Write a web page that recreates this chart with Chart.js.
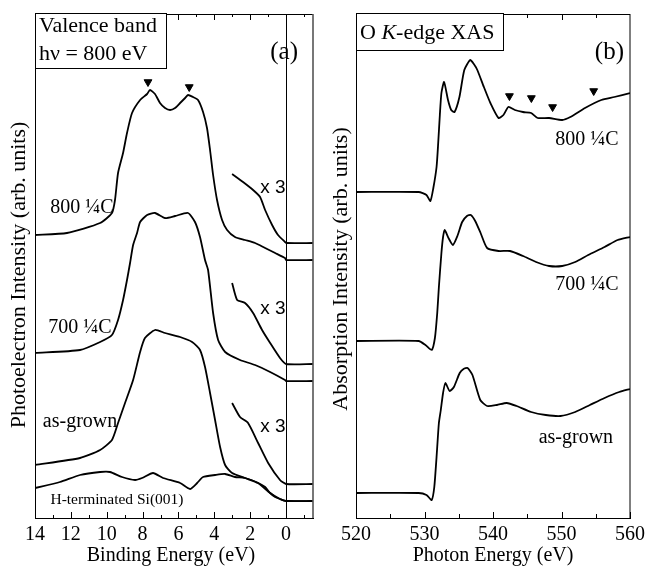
<!DOCTYPE html>
<html>
<head>
<meta charset="utf-8">
<script src="https://cdn.jsdelivr.net/npm/chart.js@4.4.0/dist/chart.umd.min.js"></script>
<style>
  body { margin: 0; background: #fff; }
  canvas { position: absolute; top: 0; }
  #vb { left: 0; }
  #xas { left: 325px; }
</style>
</head>
<body>
<canvas id="vb" width="325" height="567"></canvas>
<canvas id="xas" width="325" height="567"></canvas>
<script>
// (a) valence band, binding energy in eV, intensity in arb. units
const be800 = [14.0, 12.22, 10.37, 9.71, 9.54, 9.37, 9.09, 8.87, 8.59, 8.14, 7.75, 7.59, 7.31, 7.03, 6.75, 6.47, 6.19, 5.91, 5.63, 5.47, 5.19, 4.91, 4.63, 4.41, 4.24, 4.07, 3.85, 3.57, 3.29, 2.85, 2.29, 1.73, 1.17, 0.61, 0.06, 0, -1.5];
const vb800 = [283, 285, 295, 305, 318, 345, 365, 385, 405, 418, 424, 428, 424, 415, 410, 408, 410, 415, 420, 423, 421, 418, 406, 390, 368, 343, 318, 298, 288, 281, 278, 275, 270, 265, 260, 258, 258];
const be800x3 = [3.01, 2.40, 1.84, 1.45, 1.17, 0.78, 0.45, 0.06, 0, -1.5];
const vb800x3 = [344, 336, 328, 321, 308, 293, 283, 276, 275, 275];

const be700 = [14.0, 11.49, 10.37, 9.71, 9.37, 9.09, 8.87, 8.70, 8.53, 8.31, 8.14, 7.75, 7.31, 6.75, 6.19, 5.47, 5.08, 4.80, 4.52, 4.35, 4.07, 3.79, 3.40, 2.57, 1.73, 0.89, 0.06, 0, -1.5];
const vb700 = [165, 168, 176, 183, 198, 218, 238, 255, 273, 285, 296, 303, 305, 300, 302, 305, 296, 281, 258, 248, 205, 178, 166, 158, 153, 146, 138, 137, 137];
const be700x3 = [3.01, 2.73, 2.29, 1.84, 1.34, 0.89, 0.34, 0, -1.5];
const vb700x3 = [235, 218, 215, 205, 188, 175, 160, 154, 154];

const beAg = [14.0, 11.49, 10.37, 9.71, 9.37, 8.98, 8.53, 8.14, 7.87, 7.31, 6.75, 5.91, 5.24, 4.80, 4.52, 4.24, 3.96, 3.68, 3.40, 3.01, 2.29, 1.56, 1.17, 0.89, 0.61, 0.34, 0, -1.5];
const vbAg = [53, 60, 68, 78, 95, 115, 138, 166, 180, 188, 185, 181, 176, 168, 151, 125, 98, 71, 53, 45, 40, 35, 31, 25, 21, 19, 17, 17];
const beAgx3 = [3.01, 2.57, 2.12, 1.56, 1.00, 0.34, 0, -1.5];
const vbAgx3 = [115, 101, 95, 75, 55, 38, 34, 34];

const beSi = [14.0, 12.61, 11.49, 10.37, 9.82, 9.15, 8.42, 8.03, 7.42, 6.86, 5.91, 5.36, 4.96, 4.63, 3.96, 3.40, 2.85, 2.29, 1.56, 0.89, 0.34, 0, -1.5];
const vbSi = [30, 36, 43, 46, 46, 41, 38, 40, 45, 40, 35, 29, 35, 41, 43, 44, 41, 40, 35, 25, 19, 17, 17];

const beMarks = [7.7, 5.4];
const vbMarks = [436, 431];
const beTickLabels = [14, 12, 10, 8, 6, 4, 2, 0];

// (b) O K-edge XAS, photon energy in eV
const e800 = [520, 529.14, 530.29, 530.86, 531.29, 531.76, 532.0, 532.24, 532.47, 532.86, 533.43, 533.9, 534.39, 535.1, 535.81, 536.67, 537.2, 537.71, 538.67, 539.62, 540.81, 541.52, 542.24, 543.19, 544.38, 545.57, 546.52, 548.19, 550.1, 551.29, 553.43, 555.81, 557.71, 560];
const xas800 = [326, 326, 323, 317, 330, 351, 375, 403, 425, 436, 418, 408, 406, 421, 448, 458, 454, 448, 431, 415, 400, 403, 411, 408, 406, 405, 400, 400, 398, 401, 410, 418, 421, 425];

const e700 = [520, 529.14, 530.14, 531.05, 531.52, 531.86, 532.1, 532.47, 532.71, 532.95, 533.5, 534.14, 534.8, 535.5, 536.2, 536.76, 537.4, 538.19, 539.14, 540.81, 542.48, 544.38, 546.29, 548.19, 550.1, 552.0, 553.9, 556.29, 558.19, 560];
const xas700 = [177, 177, 173, 168, 180, 205, 231, 265, 281, 288, 280, 273, 282, 296, 302, 303, 297, 285, 270, 267, 267, 262, 256, 252, 252, 256, 263, 271, 278, 281];

const eAg = [520, 529.14, 530.29, 531.05, 531.43, 531.76, 532.1, 532.38, 532.71, 533.05, 533.67, 534.29, 535.14, 535.7, 536.29, 537.0, 538.14, 539.14, 540.57, 542.0, 543.43, 545.57, 547.71, 549.86, 552.0, 554.14, 556.29, 558.43, 560];
const xasAg = [25, 25, 23, 18, 31, 61, 95, 108, 125, 135, 127, 131, 145, 149, 150, 143, 118, 112, 113, 115, 112, 106, 103, 102, 106, 113, 120, 126, 129];

const eMarks = [542.4, 545.6, 548.7, 554.7];
const xasMarks = [422, 420, 411, 427];

const serif = "'Liberation Serif', 'Times New Roman', serif";
const sans = "'Liberation Sans', Arial, sans-serif";

const pts = (xs, ys) => xs.map((x, i) => ({ x: x, y: ys[i] }));
const curve = (xs, ys) => ({ data: pts(xs, ys), borderColor: '#000', borderWidth: 1.8, pointRadius: 0, tension: 0.2 });
const marks = (xs, ys) => ({ data: pts(xs, ys), showLine: false, pointStyle: 'triangle', pointRotation: 180, pointRadius: 4.5, backgroundColor: '#000', borderColor: '#000', borderWidth: 1 });

const frame = {
  id: 'frame',
  afterDraw(chart, args, o) {
    const { ctx, chartArea: a, scales: { x, y } } = chart;
    const seg = (x1, y1, x2, y2) => { ctx.beginPath(); ctx.moveTo(x1, y1); ctx.lineTo(x2, y2); ctx.stroke(); };
    ctx.save();
    ctx.strokeStyle = '#000';
    ctx.lineWidth = 1;
    seg(a.left + 0.5, o.box.b, a.left + 0.5, a.bottom);
    seg(o.box.r, a.top + 0.5, a.right, a.top + 0.5);
    ctx.lineWidth = o.rightWidth;
    ctx.strokeStyle = o.rightColor;
    seg(a.right, a.top, a.right, a.bottom);
    ctx.strokeStyle = '#000';
    ctx.lineWidth = 1;
    if (o.zero !== undefined) {
      const zx = Math.round(x.getPixelForValue(o.zero)) + 0.5;
      seg(zx, a.top, zx, a.bottom);
    }
    o.ticks.forEach(t => {
      const px = Math.round(x.getPixelForValue(t.v)) + 0.5;
      seg(px, a.bottom, px, a.bottom - t.len);
      if (px > o.box.r + 2 && px < a.right - 1) seg(px, a.top, px, a.top + t.len);
    });
    // box
    ctx.fillStyle = '#fff';
    ctx.fillRect(a.left, o.box.t, o.box.r - a.left, o.box.b - o.box.t);
    ctx.strokeRect(a.left + 0.5, o.box.t + 0.5, o.box.r - a.left, o.box.b - o.box.t);
    ctx.fillStyle = '#000';
    ctx.textBaseline = 'middle';
    o.boxLines.forEach(l => {
      let cx = a.left + 4;
      l.parts.forEach(p => {
        ctx.font = (p.italic ? 'italic ' : '') + '22px ' + serif;
        ctx.textAlign = 'left';
        ctx.fillText(p.t, cx, l.y);
        cx += ctx.measureText(p.t).width;
      });
    });
    // labels anchored in data units
    o.labels.forEach(l => {
      ctx.font = l.font;
      ctx.textAlign = 'center';
      ctx.fillText(l.t, x.getPixelForValue(l.x), y.getPixelForValue(l.y));
    });
    // axis titles
    ctx.textAlign = 'center';
    ctx.font = '20px ' + serif;
    ctx.fillText(o.xTitle, (a.left + a.right) / 2 + o.xTitleShift, 556);
    ctx.font = '22px ' + serif;
    ctx.translate(o.yTitleX, o.yTitleY);
    ctx.rotate(-Math.PI / 2);
    ctx.fillText(o.yTitle, 0, 0);
    ctx.restore();
  }
};

function build(id, sets, xs, pad, frameOpts) {
  return new Chart(document.getElementById(id), {
    type: 'line',
    data: { datasets: sets },
    options: {
      responsive: false,
      animation: false,
      devicePixelRatio: 1,
      layout: { padding: pad },
      plugins: { legend: { display: false }, tooltip: { enabled: false }, frame: frameOpts },
      scales: {
        x: Object.assign({
          type: 'linear',
          grid: { display: false, drawTicks: false },
          border: { color: '#000', width: 1 },
          afterFit: s => { s.height = 49; }
        }, xs),
        y: { display: false, min: 0, max: 504 }
      }
    },
    plugins: [frame]
  });
}

const oddTicks = [];
for (let v = 14; v >= -1; v--) oddTicks.push({ v: v, len: v % 2 === 0 ? 6 : 3 });
const xasTicks = [];
for (let v = 520; v <= 560; v += 5) xasTicks.push({ v: v, len: v % 10 === 0 ? 6 : 4 });

const labelFont = '20px ' + serif;
const timesFont = '19px ' + sans;

build('vb', [
  curve(be800, vb800), curve(be800x3, vb800x3),
  curve(be700, vb700), curve(be700x3, vb700x3),
  curve(beAg, vbAg), curve(beAgx3, vbAgx3),
  curve(beSi, vbSi), marks(beMarks, vbMarks)
], {
  min: -1.5, max: 14, reverse: true,
  afterBuildTicks: s => { s.ticks = beTickLabels.map(v => ({ value: v })); },
  ticks: {
    autoSkip: false, maxRotation: 0, padding: 5, color: '#000',
    font: { family: serif, size: 20 }
  }
}, { top: 14, left: 35, right: 12, bottom: 0 }, {
  box: { t: 13, r: 166, b: 68 },
  rightWidth: 1.6, rightColor: '#555',
  zero: 0,
  ticks: oddTicks,
  boxLines: [
    { y: 26, parts: [{ t: 'Valence band' }] },
    { y: 54, parts: [{ t: 'h\u03bd = 800 eV' }] }
  ],
  labels: [
    { t: '(a)', x: 0.11, y: 466, font: '25px ' + serif },
    { t: '800 \u00bcC', x: 11.38, y: 310, font: labelFont },
    { t: '700 \u00bcC', x: 11.49, y: 190, font: labelFont },
    { t: 'as-grown', x: 11.49, y: 96, font: labelFont },
    { t: 'H-terminated Si(001)', x: 9.43, y: 18, font: '15.5px ' + serif },
    { t: 'x 3', x: 0.73, y: 330, font: timesFont },
    { t: 'x 3', x: 0.73, y: 209, font: timesFont },
    { t: 'x 3', x: 0.73, y: 91, font: timesFont }
  ],
  xTitle: 'Binding Energy (eV)', xTitleShift: -3,
  yTitle: 'Photoelectron Intensity (arb. units)', yTitleX: 19, yTitleY: 275
});

build('xas', [
  curve(e800, xas800), curve(e700, xas700), curve(eAg, xasAg), marks(eMarks, xasMarks)
], {
  min: 520, max: 560,
  ticks: {
    stepSize: 10, autoSkip: false, maxRotation: 0, padding: 5, color: '#000',
    font: { family: serif, size: 20 }
  }
}, { top: 14, left: 31, right: 13, bottom: 0 }, {
  box: { t: 13, r: 178, b: 50 },
  rightWidth: 1, rightColor: '#000',
  ticks: xasTicks,
  boxLines: [
    { y: 33, parts: [{ t: 'O ' }, { t: 'K', italic: true }, { t: '-edge XAS' }] }
  ],
  labels: [
    { t: '(b)', x: 557, y: 466, font: '25px ' + serif },
    { t: '800 \u00bcC', x: 553.7, y: 378, font: labelFont },
    { t: '700 \u00bcC', x: 553.7, y: 233, font: labelFont },
    { t: 'as-grown', x: 552.1, y: 80, font: labelFont }
  ],
  xTitle: 'Photon Energy (eV)', xTitleShift: 0,
  yTitle: 'Absorption Intensity (arb. units)', yTitleX: 16, yTitleY: 269
});
</script>
</body>
</html>
